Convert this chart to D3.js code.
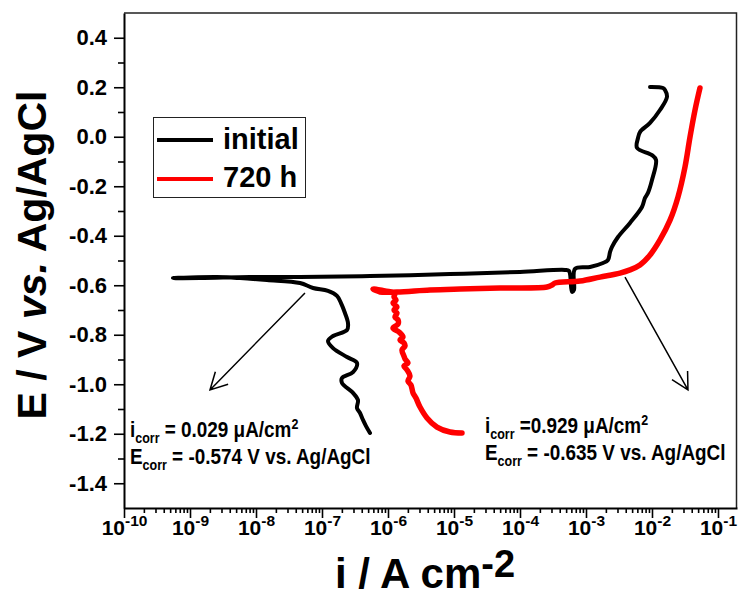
<!DOCTYPE html>
<html>
<head>
<meta charset="utf-8">
<script src="https://cdn.jsdelivr.net/npm/d3@7"></script>
<style>
  body { margin: 0; background: #fff; }
  svg { display: block; font-family: Arial, "Liberation Sans", sans-serif; font-weight: bold; }
</style>
</head>
<body>
<div id="chart"></div>
<script>
// log10(i / A cm-2) and E (V vs. Ag/AgCl)
const initialLogI = [-6.273,-6.333,-6.379,-6.424,-6.470,-6.455,-6.530,-6.697,-6.697,-6.530,-6.470,-6.621,-6.833,-6.909,-6.833,-6.621,-6.606,-6.652,-6.712,-6.773,-6.909,-7.136,-7.333,-7.833,-8.242,-8.591,-9.258,-8.848,-8.091,-7.333,-6.273,-5.061,-4.0,-3.318,-3.258,-3.212,-3.182,-3.167,-2.939,-2.742,-2.667,-2.636,-2.606,-2.515,-2.333,-2.152,-2.106,-2.061,-2.0,-1.939,-2.0,-2.227,-2.212,-2.182,-2.030,-1.879,-1.773,-1.803,-1.833,-2.030]
const initialE = [-1.197,-1.169,-1.144,-1.116,-1.096,-1.064,-1.035,-0.995,-0.975,-0.951,-0.914,-0.890,-0.854,-0.825,-0.805,-0.781,-0.753,-0.712,-0.672,-0.643,-0.623,-0.611,-0.591,-0.579,-0.571,-0.567,-0.571,-0.571,-0.567,-0.567,-0.563,-0.555,-0.546,-0.538,-0.542,-0.627,-0.619,-0.534,-0.526,-0.510,-0.498,-0.466,-0.445,-0.405,-0.348,-0.284,-0.247,-0.227,-0.175,-0.094,-0.074,-0.045,-0.005,0.019,0.056,0.108,0.161,0.189,0.197,0.201]

const agedLogI = [-4.879,-5.061,-5.258,-5.409,-5.515,-5.576,-5.621,-5.652,-5.697,-5.667,-5.712,-5.758,-5.697,-5.742,-5.758,-5.788,-5.742,-5.758,-5.818,-5.773,-5.833,-5.924,-5.848,-5.848,-5.894,-5.864,-5.909,-5.864,-5.924,-5.879,-5.909,-5.894,-6.045,-6.227,-6.121,-5.864,-5.364,-4.909,-4.303,-3.591,-3.515,-3.470,-3.091,-2.788,-2.485,-2.333,-2.182,-2.030,-1.879,-1.727,-1.606,-1.500,-1.424,-1.348,-1.273]
const agedE = [-1.197,-1.193,-1.173,-1.136,-1.092,-1.056,-1.035,-1.003,-0.987,-0.967,-0.942,-0.926,-0.914,-0.898,-0.886,-0.862,-0.845,-0.833,-0.821,-0.809,-0.789,-0.773,-0.757,-0.740,-0.728,-0.712,-0.700,-0.688,-0.672,-0.660,-0.647,-0.631,-0.623,-0.615,-0.627,-0.627,-0.619,-0.615,-0.611,-0.607,-0.599,-0.591,-0.583,-0.567,-0.551,-0.538,-0.518,-0.478,-0.417,-0.337,-0.243,-0.122,-0.001,0.108,0.197]

const seriesNames = ["initial", "720 h"]
const seriesColors = ["#000000", "#ff0000"]

const xTickExponents = [-10, -9, -8, -7, -6, -5, -4, -3, -2, -1]
const yTickValues = [-1.4, -1.2, -1.0, -0.8, -0.6, -0.4, -0.2, 0.0, 0.2, 0.4]
const yMinorValues = [-1.3, -1.1, -0.9, -0.7, -0.5, -0.3, -0.1, 0.1, 0.3]

const notes = [
  {icorr: "0.029", sep: " = ", ecorr: "-0.574"},
  {icorr: "0.929", sep: " =", ecorr: "-0.635"}
]

const width = 738, height = 597
const plot = {left: 124, right: 737, top: 13, bottom: 508}

let x = d3.scaleLog()
      .domain([1e-10, Math.pow(10, -0.712)])
      .range([plot.left, plot.right])

let y = d3.scaleLinear()
      .domain([-1.5, 0.5])
      .range([plot.bottom, plot.top])

let svg = d3.select("#chart").append("svg")
      .attr("width", width)
      .attr("height", height)

// frame top / right
svg.append("path")
  .attr("d", `M${plot.left},${plot.top}H${plot.right - 0.5}V${plot.bottom}`)
  .attr("fill", "none")
  .attr("stroke", "#222")
  .attr("stroke-width", 1.5)

// Y AXIS
let yAxis = d3.axisLeft(y)
      .tickValues(yTickValues)
      .tickSize(10)
      .tickSizeOuter(0)
      .tickPadding(7)
      .tickFormat(d => d.toFixed(1))

let gy = svg.append("g")
  .attr("transform", `translate(${plot.left},0)`)
  .call(yAxis)
gy.selectAll("text").attr("font-size", 22).attr("font-weight", "bold").attr("fill", "#000")
  .attr("font-family", "Arial, 'Liberation Sans', sans-serif")

svg.append("g")
  .attr("transform", `translate(${plot.left},0)`)
  .call(d3.axisLeft(y).tickValues(yMinorValues).tickSize(6).tickSizeOuter(0).tickFormat(""))
  .select(".domain").remove()

// X AXIS
let minorX = []
xTickExponents.forEach(e => {
  for (let k = 2; k <= 9; k++) {
    let v = k * Math.pow(10, e)
    if (v > x.domain()[0] && v < x.domain()[1]) minorX.push(v)
  }
})

let gx = svg.append("g")
  .attr("transform", `translate(0,${plot.bottom})`)
  .call(d3.axisBottom(x)
    .tickValues(xTickExponents.map(e => Math.pow(10, e)))
    .tickSize(10)
    .tickSizeOuter(0)
    .tickFormat(""))

gx.selectAll(".tick").append("text")
  .attr("y", 27)
  .attr("fill", "#000")
  .attr("text-anchor", "middle")
  .attr("font-size", 21)
  .attr("font-weight", "bold")
  .attr("font-family", "Arial, 'Liberation Sans', sans-serif")
  .each(function(d, i) {
    let t = d3.select(this)
    t.append("tspan").text("10")
    t.append("tspan").attr("font-size", 15.5).attr("dy", -9).text(xTickExponents[i])
  })

svg.append("g")
  .attr("transform", `translate(0,${plot.bottom})`)
  .call(d3.axisBottom(x).tickValues(minorX).tickSize(5).tickSizeOuter(0).tickFormat(""))
  .select(".domain").remove()

svg.selectAll(".domain").attr("stroke-width", 2).attr("stroke", "#000")
svg.selectAll(".tick line").attr("stroke-width", 1.6).attr("stroke", "#000")

// AXIS TITLES
let yTitle = svg.append("text")
  .attr("transform", "translate(46,255) rotate(-90)")
  .attr("text-anchor", "middle")
  .attr("font-size", 41)
yTitle.append("tspan").text("E / V ")
yTitle.append("tspan").attr("font-style", "italic").text("vs.")
yTitle.append("tspan").text(" Ag/AgCl")

let xTitle = svg.append("text")
  .attr("x", 335)
  .attr("y", 588)
  .attr("font-size", 42)
xTitle.append("tspan").text("i / A cm")
xTitle.append("tspan").attr("font-size", 38).attr("dy", -11).text("-2")

// CURVES
let line = d3.line()
      .curve(d3.curveCatmullRom.alpha(0.5))
      .x(d => x(Math.pow(10, d[0])))
      .y(d => y(d[1]))

let curves = [
  d3.zip(initialLogI, initialE),
  d3.zip(agedLogI, agedE)
]

svg.selectAll(".curve")
  .data(curves)
  .enter().append("path")
  .attr("class", "curve")
  .attr("d", line)
  .attr("fill", "none")
  .attr("stroke", (d, i) => seriesColors[i])
  .attr("stroke-width", (d, i) => i === 0 ? 4 : 5.5)
  .attr("stroke-linejoin", "round")
  .attr("stroke-linecap", "round")

// LEGEND
let legend = svg.append("g").attr("transform", "translate(153,117)")
legend.append("rect")
  .attr("x", 0.5).attr("y", 0.5)
  .attr("width", 152).attr("height", 80)
  .attr("fill", "#fff").attr("stroke", "#222").attr("stroke-width", 1)

seriesNames.forEach((name, i) => {
  legend.append("line")
    .attr("x1", 4).attr("x2", 60)
    .attr("y1", 23 + i * 39).attr("y2", 23 + i * 39)
    .attr("stroke", seriesColors[i])
    .attr("stroke-width", 4)
  legend.append("text")
    .attr("x", 70).attr("y", 32 + i * 38)
    .attr("font-size", 29)
    .text(name)
})

// ARROWS (drawn in data units: [log i, E])
let arrows = [
  [[-7.258, -0.631], [-8.697, -1.023]],
  [[-2.409, -0.567], [-1.455, -1.023]]
]

arrows.forEach(a => {
  let x0 = x(Math.pow(10, a[0][0])), y0 = y(a[0][1])
  let x1 = x(Math.pow(10, a[1][0])), y1 = y(a[1][1])
  let ang = Math.atan2(y0 - y1, x0 - x1)
  let len = 19, spread = 28 * Math.PI / 180
  let p = d3.path()
  p.moveTo(x0, y0); p.lineTo(x1, y1)
  p.moveTo(x1 + len * Math.cos(ang - spread), y1 + len * Math.sin(ang - spread))
  p.lineTo(x1, y1)
  p.lineTo(x1 + len * Math.cos(ang + spread), y1 + len * Math.sin(ang + spread))
  svg.append("path")
    .attr("d", p.toString())
    .attr("fill", "none")
    .attr("stroke", "#000")
    .attr("stroke-width", 1.5)
})

// ANNOTATIONS
let notePos = [[130, 437], [485, 433]]
notes.forEach((n, i) => {
  let g = svg.append("g")
    .attr("transform", `translate(${notePos[i][0]},${notePos[i][1]}) scale(0.86,1)`)
    .attr("font-size", 22)
  let t1 = g.append("text")
  t1.append("tspan").text("i")
  t1.append("tspan").attr("font-size", 14.5).attr("dy", 6).text("corr")
  t1.append("tspan").attr("dy", -6).text(n.sep + n.icorr + " μA/cm")
  t1.append("tspan").attr("font-size", 14.5).attr("dy", -8).text("2")
  let t2 = g.append("text").attr("y", 27)
  t2.append("tspan").text("E")
  t2.append("tspan").attr("font-size", 14.5).attr("dy", 6).text("corr")
  t2.append("tspan").attr("dy", -6).text(" = " + n.ecorr + " V vs. Ag/AgCl")
})
</script>
</body>
</html>
